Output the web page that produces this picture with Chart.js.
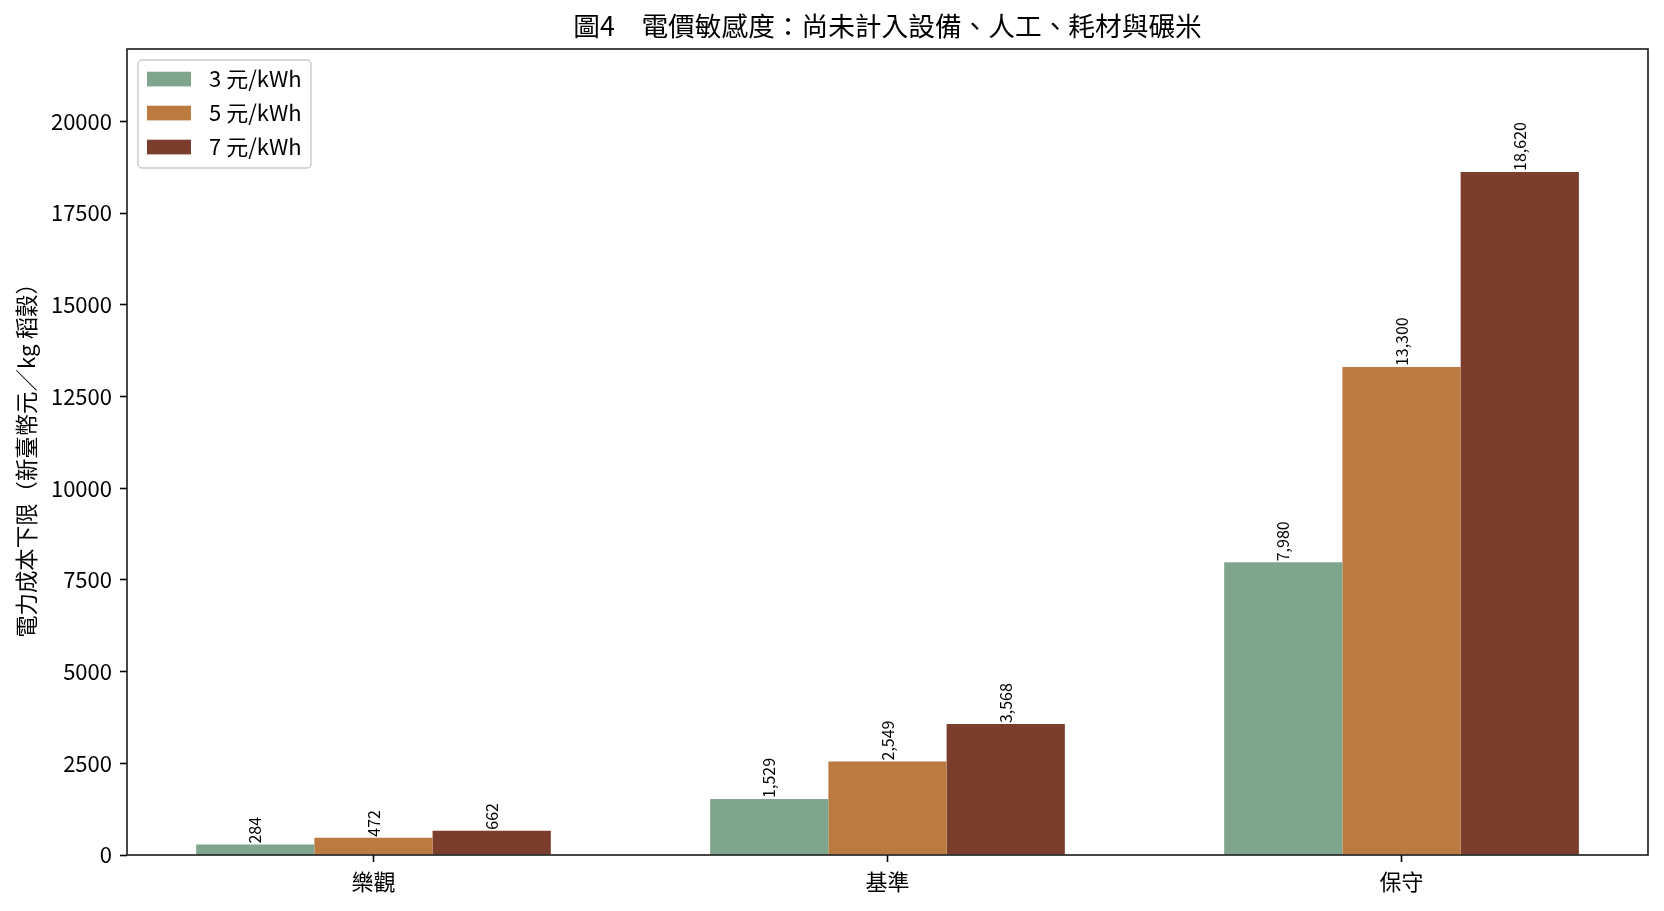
<!DOCTYPE html>
<html>
<head>
<meta charset="utf-8">
<script src="https://cdn.jsdelivr.net/npm/chart.js@4"></script>
<style>
  html, body { margin: 0; padding: 0; background: #fff; }
  canvas { display: block; }
</style>
</head>
<body>
<canvas id="chart" width="1664" height="911"></canvas>
<script>
// scenarios and electricity price series
var categories = ["樂觀", "基準", "保守"];
var seriesNames = ["3 元/kWh", "5 元/kWh", "7 元/kWh"];
var price3 = [284, 1529, 7980];
var price5 = [472, 2549, 13300];
var price7 = [662, 3568, 18620];
var yTicks = [0, 2500, 5000, 7500, 10000, 12500, 15000, 17500, 20000];

var titleText = "圖4　電價敏感度：尚未計入設備、人工、耗材與碾米";
var yTitleText = "電力成本下限（新臺幣元／kg 稻穀）";
var colors = ["#7FA58C", "#BA7A40", "#7B3D2C"];
var FONT = "'Noto Sans CJK TC', 'Noto Sans', sans-serif";

var series = [price3, price5, price7];

// title, y title, frame, bar labels and legend
var extras = {
  id: "extras",
  afterDraw: function (chart) {
    var c = chart.ctx;
    var a = chart.chartArea;
    c.save();

    c.strokeStyle = "#1a1a1a";
    c.lineWidth = 1.6;
    c.strokeRect(a.left, a.top, a.right - a.left, a.bottom - a.top);

    c.fillStyle = "#000";
    c.font = "26.7px " + FONT;
    c.textAlign = "center";
    c.textBaseline = "middle";
    c.fillText(titleText, (a.left + a.right) / 2, 25.5);

    c.save();
    c.translate(26.5, (a.top + a.bottom) / 2 + 3);
    c.rotate(-Math.PI / 2);
    c.font = "22.4px " + FONT;
    c.fillText(yTitleText, 0, 0);
    c.restore();

    // value labels on bars
    c.font = "16px " + FONT;
    chart.data.datasets.forEach(function (ds, di) {
      var meta = chart.getDatasetMeta(di);
      meta.data.forEach(function (bar, i) {
        c.save();
        c.translate(bar.x, bar.y - 1);
        c.rotate(-Math.PI / 2);
        c.textAlign = "left";
        c.textBaseline = "middle";
        c.fillText(ds.data[i].y.toLocaleString("en-US"), 0, 0);
        c.restore();
      });
    });

    // legend
    var lx = 138, ly = 60, lw = 173, lh = 108, r = 4;
    c.beginPath();
    c.moveTo(lx + r, ly);
    c.arcTo(lx + lw, ly, lx + lw, ly + lh, r);
    c.arcTo(lx + lw, ly + lh, lx, ly + lh, r);
    c.arcTo(lx, ly + lh, lx, ly, r);
    c.arcTo(lx, ly, lx + lw, ly, r);
    c.closePath();
    c.fillStyle = "rgba(255,255,255,0.8)";
    c.fill();
    c.strokeStyle = "#cccccc";
    c.lineWidth = 1.5;
    c.stroke();

    c.font = "22px " + FONT;
    c.textAlign = "left";
    c.textBaseline = "middle";
    seriesNames.forEach(function (name, i) {
      var y = 79 + i * 34;
      c.fillStyle = colors[i];
      c.fillRect(147, y - 7.3, 44, 14.7);
      c.fillStyle = "#000";
      c.fillText(name, 209, y);
    });

    c.restore();
  },
};

var ctx = document.getElementById("chart").getContext("2d");

var chart = new Chart(ctx, {
  type: "bar",
  data: {
    datasets: series.map(function (vals, k) {
      return {
        label: seriesNames[k],
        data: vals.map(function (v, i) {
          return { x: i, y: v };
        }),
        backgroundColor: colors[k],
        borderWidth: 0,
        categoryPercentage: 0.69,
        barPercentage: 1.0,
      };
    }),
  },
  options: {
    responsive: false,
    animation: false,
    devicePixelRatio: 1,
    events: [],
    layout: {
      padding: { left: 0, right: 16, top: 49, bottom: 0 },
    },
    plugins: {
      legend: { display: false },
      tooltip: { enabled: false },
      title: { display: false },
    },
    scales: {
      x: {
        type: "linear",
        offset: false,
        min: -0.4795,
        max: 2.4795,
        afterBuildTicks: function (axis) {
          axis.ticks = categories.map(function (c, i) {
            return { value: i };
          });
        },
        afterFit: function (axis) {
          axis.height = 56;
        },
        border: { display: false },
        grid: {
          offset: false,
          drawOnChartArea: false,
          drawTicks: true,
          tickLength: 7,
          tickWidth: 1.6,
          color: "#000",
        },
        ticks: {
          autoSkip: false,
          maxRotation: 0,
          padding: 6,
          color: "#000",
          font: { family: FONT, size: 22 },
          callback: function (value) {
            return categories[value];
          },
        },
      },
      y: {
        min: 0,
        max: 21972,
        afterBuildTicks: function (axis) {
          axis.ticks = yTicks.map(function (v) {
            return { value: v };
          });
        },
        afterFit: function (axis) {
          axis.width = 127;
        },
        border: { display: false },
        grid: {
          drawOnChartArea: false,
          drawTicks: true,
          tickLength: 7,
          tickWidth: 1.6,
          color: "#000",
        },
        ticks: {
          padding: 8,
          color: "#000",
          font: { family: FONT, size: 22 },
          callback: function (value) {
            return String(value);
          },
        },
      },
    },
  },
  plugins: [extras],
});
</script>
</body>
</html>
